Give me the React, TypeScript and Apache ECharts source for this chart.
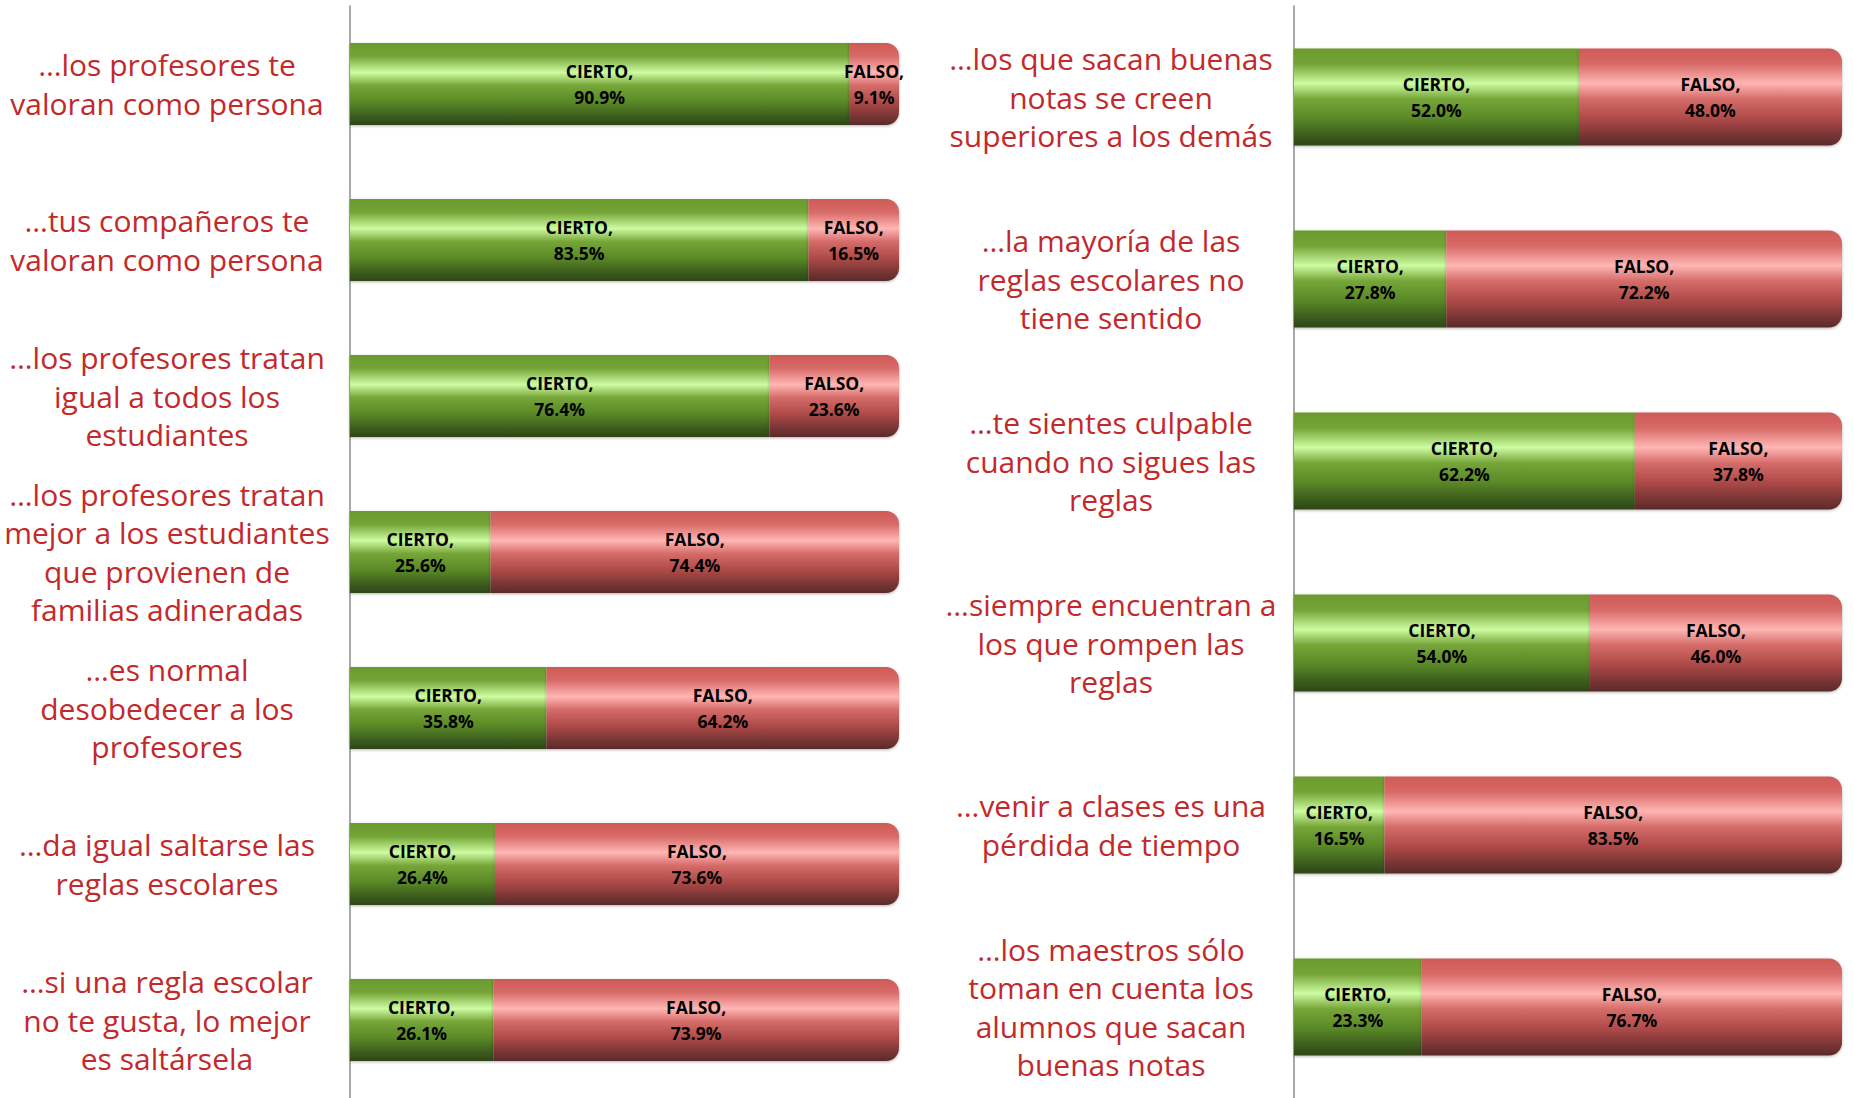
import React, { useEffect, useRef } from "react";
import * as echarts from "echarts";

const leftCategories = [
  "…los profesores te\nvaloran como persona",
  "…tus compañeros te\nvaloran como persona",
  "…los profesores tratan\nigual a todos los\nestudiantes",
  "…los profesores tratan\nmejor a los estudiantes\nque provienen de\nfamilias adineradas",
  "…es normal\ndesobedecer a los\nprofesores",
  "…da igual saltarse las\nreglas escolares",
  "…si una regla escolar\nno te gusta, lo mejor\nes saltársela",
];
const leftCierto = [90.9, 83.5, 76.4, 25.6, 35.8, 26.4, 26.1];
const leftFalso = [9.1, 16.5, 23.6, 74.4, 64.2, 73.6, 73.9];

const rightCategories = [
  "…los que sacan buenas\nnotas se creen\nsuperiores a los demás",
  "…la mayoría de las\nreglas escolares no\ntiene sentido",
  "…te sientes culpable\ncuando no sigues las\nreglas",
  "…siempre encuentran a\nlos que rompen las\nreglas",
  "…venir a clases es una\npérdida de tiempo",
  "…los maestros sólo\ntoman en cuenta los\nalumnos que sacan\nbuenas notas",
];
const rightCierto = [52.0, 27.8, 62.2, 54.0, 16.5, 23.3];
const rightFalso = [48.0, 72.2, 37.8, 46.0, 83.5, 76.7];

const greenGrad = () =>
  new echarts.graphic.LinearGradient(0, 0, 0, 1, [
    { offset: 0, color: "#6b9a2e" },
    { offset: 0.16, color: "#74a436" },
    { offset: 0.36, color: "#cdfca2" },
    { offset: 0.52, color: "#76a538" },
    { offset: 0.72, color: "#5a8927" },
    { offset: 0.9, color: "#3b5b1d" },
    { offset: 1, color: "#2f4617" },
  ]);
const redGrad = () =>
  new echarts.graphic.LinearGradient(0, 0, 0, 1, [
    { offset: 0, color: "#cf5a57" },
    { offset: 0.16, color: "#d76a67" },
    { offset: 0.36, color: "#ffb6b4" },
    { offset: 0.52, color: "#d56c69" },
    { offset: 0.72, color: "#ae4a48" },
    { offset: 0.9, color: "#773434" },
    { offset: 1, color: "#5a2a2a" },
  ]);

const catLabel = {
  align: "center" as const,
  margin: 183,
  fontFamily: "Open Sans",
  fontSize: 30,
  lineHeight: 38.5,
  padding: [12, 0, 0, 0],
  color: "#c3292b",
};

const barLabel = (name: string) => ({
  show: true,
  position: "inside" as const,
  formatter: (p: any) => `${name},\n${Number(p.value).toFixed(1)}%`,
  fontFamily: "Open Sans",
  fontWeight: "bold" as const,
  fontSize: 17.5,
  lineHeight: 26,
  color: "#000",
});

export default function App() {
  const ref = useRef<HTMLDivElement>(null);
  useEffect(() => {
    const chart = echarts.init(ref.current!, undefined, { renderer: "svg" });
    const shadow = {
      shadowBlur: 3,
      shadowColor: "rgba(0,0,0,0.3)",
      shadowOffsetY: 1,
    };
    const makeSeries = (idx: number, cierto: number[], falso: number[], bw: number) => [
      {
        type: "bar",
        name: "CIERTO",
        stack: "s" + idx,
        xAxisIndex: idx,
        yAxisIndex: idx,
        barWidth: bw,
        data: cierto,
        itemStyle: { color: greenGrad(), ...shadow },
        label: barLabel("CIERTO"),
      },
      {
        type: "bar",
        name: "FALSO",
        stack: "s" + idx,
        xAxisIndex: idx,
        yAxisIndex: idx,
        barWidth: bw,
        data: falso,
        itemStyle: { color: redGrad(), borderRadius: [0, 13, 13, 0], ...shadow },
        label: barLabel("FALSO"),
      },
    ];
    chart.setOption({
      animation: false,
      backgroundColor: "#ffffff",
      grid: [
        { left: 350, width: 549, top: 6, height: 1092 },
        { left: 1294, width: 548, top: 6, height: 1092 },
      ],
      xAxis: [
        { type: "value", gridIndex: 0, min: 0, max: 100, show: false },
        { type: "value", gridIndex: 1, min: 0, max: 100, show: false },
      ],
      yAxis: [
        {
          type: "category",
          gridIndex: 0,
          inverse: true,
          data: leftCategories,
          axisLine: { show: true, lineStyle: { color: "#8c8c8c", width: 1.5 } },
          axisTick: { show: false },
          axisLabel: catLabel,
        },
        {
          type: "category",
          gridIndex: 1,
          inverse: true,
          data: rightCategories,
          axisLine: { show: true, lineStyle: { color: "#8c8c8c", width: 1.5 } },
          axisTick: { show: false },
          axisLabel: catLabel,
        },
      ],
      series: [
        ...makeSeries(0, leftCierto, leftFalso, 82),
        ...makeSeries(1, rightCierto, rightFalso, 97),
      ],
    });
    return () => chart.dispose();
  }, []);
  return (
    <div
      ref={ref}
      style={{ position: "absolute", left: 0, top: 0, width: 1854, height: 1098 }}
    />
  );
}
